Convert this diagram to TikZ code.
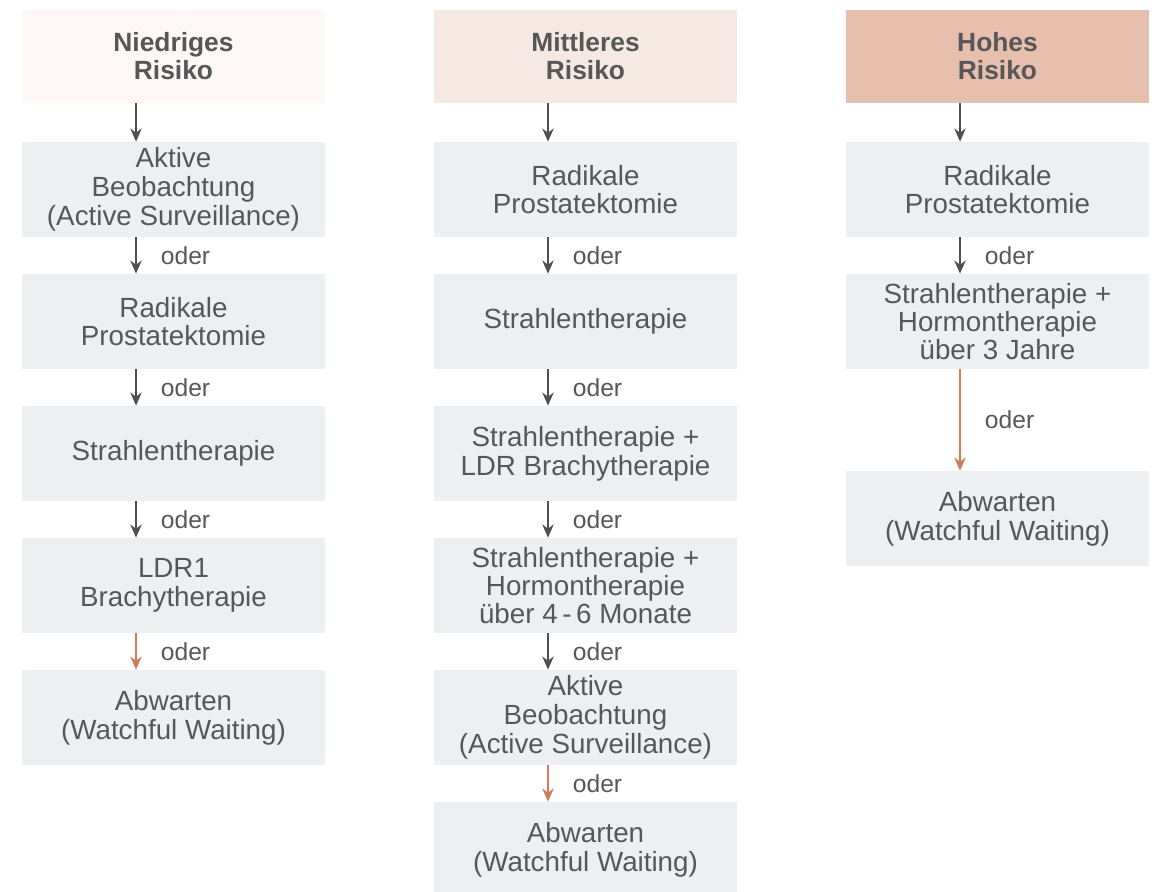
\documentclass[tikz,border=0pt]{standalone}
\usepackage{fontspec}
\setmainfont{Liberation Sans}
\usetikzlibrary{arrows.meta}

\definecolor{textgray}{HTML}{575757}
\definecolor{boxgray}{HTML}{EDF0F3}
\definecolor{risklow}{HTML}{FDF8F5}
\definecolor{riskmid}{HTML}{F6E9E4}
\definecolor{riskhigh}{HTML}{E6C0AD}
\definecolor{arrowgray}{HTML}{505050}
\definecolor{arroworange}{HTML}{D27B5C}

\tikzset{
    risk box/.style={
        fill=#1,inner sep=0pt,
        minimum width=6.06cm,minimum height=1.86cm,
        align=center,text=textgray,
        font=\bfseries\fontsize{15}{15.9}\selectfont
    },
    therapy box/.style={
        fill=boxgray,inner sep=0pt,
        minimum width=6.06cm,minimum height=1.9cm,
        align=center,text=textgray,
        font=\fontsize{15.8}{16.4}\selectfont
    },
    tight/.style={font=\fontsize{15.8}{13.8}\selectfont},
    flow/.style={-{Stealth[length=7.5pt,width=6.5pt]},line width=1.1pt,draw=arrowgray},
    last flow/.style={flow,draw=arroworange},
    oder/.style={right,inner sep=0pt,xshift=.48cm,text=textgray,font=\fontsize{14}{16}\selectfont}
}

\begin{document}
\begin{tikzpicture}[x=.02cm,y=-.02cm]
        \useasboundingbox (0,0) rectangle (1161,892);
        \clip (0,0) rectangle (1161,892);
        % Kopfzeilen
        \foreach \x/\name/\col/\txt in {173.5/low/risklow/{Niedriges\\Risiko},585.5/mid/riskmid/{Mittleres\\Risiko},997.5/high/riskhigh/{Hohes\\Risiko}}
            \node[risk box=\col] (\name0) at (\x,56.5) {\txt};
        % niedriges Risiko
        \foreach \i/\txt in {1/{Aktive\\Beobachtung\\(Active Surveillance)},2/{Radikale\\Prostatektomie},3/Strahlentherapie,4/{LDR1\\Brachytherapie},5/{Abwarten\\(Watchful Waiting)}}
            \node[therapy box] (low\i) at (173.5,{57.5+132*\i}) {\txt};
        % mittleres Risiko
        \foreach \i/\txt in {1/{Radikale\\Prostatektomie},2/Strahlentherapie,3/{Strahlentherapie +\\LDR Brachytherapie},5/{Aktive\\Beobachtung\\(Active Surveillance)},6/{Abwarten\\(Watchful Waiting)}}
            \node[therapy box] (mid\i) at (585.5,{57.5+132*\i}) {\txt};
        \node[therapy box,tight] (mid4) at (585.5,585.5) {Strahlentherapie +\\Hormontherapie\\über 4\,-\,6 Monate};
        % hohes Risiko
        \node[therapy box] (high1) at (997.5,189.5) {Radikale\\Prostatektomie};
        \node[therapy box,tight] (high2) at (997.5,321.5) {Strahlentherapie +\\Hormontherapie\\über 3 Jahre};
        \node[therapy box] (high3) at (997.5,518.5) {Abwarten\\(Watchful Waiting)};
        % Pfeile
        \foreach \name in {low,mid,high}
            \draw[flow] ([xshift=-.75cm]\name0.south) -- ([xshift=-.75cm]\name1.north);
        \foreach \a/\b in {low1/low2,low2/low3,low3/low4,mid1/mid2,mid2/mid3,mid3/mid4,mid4/mid5,high1/high2}
            \draw[flow] ([xshift=-.75cm]\a.south) -- node[oder] {oder} ([xshift=-.75cm]\b.north);
        \foreach \a/\b in {low4/low5,mid5/mid6,high2/high3}
            \draw[last flow] ([xshift=-.75cm]\a.south) -- node[oder] {oder} ([xshift=-.75cm]\b.north);
    \end{tikzpicture}
\end{document}
